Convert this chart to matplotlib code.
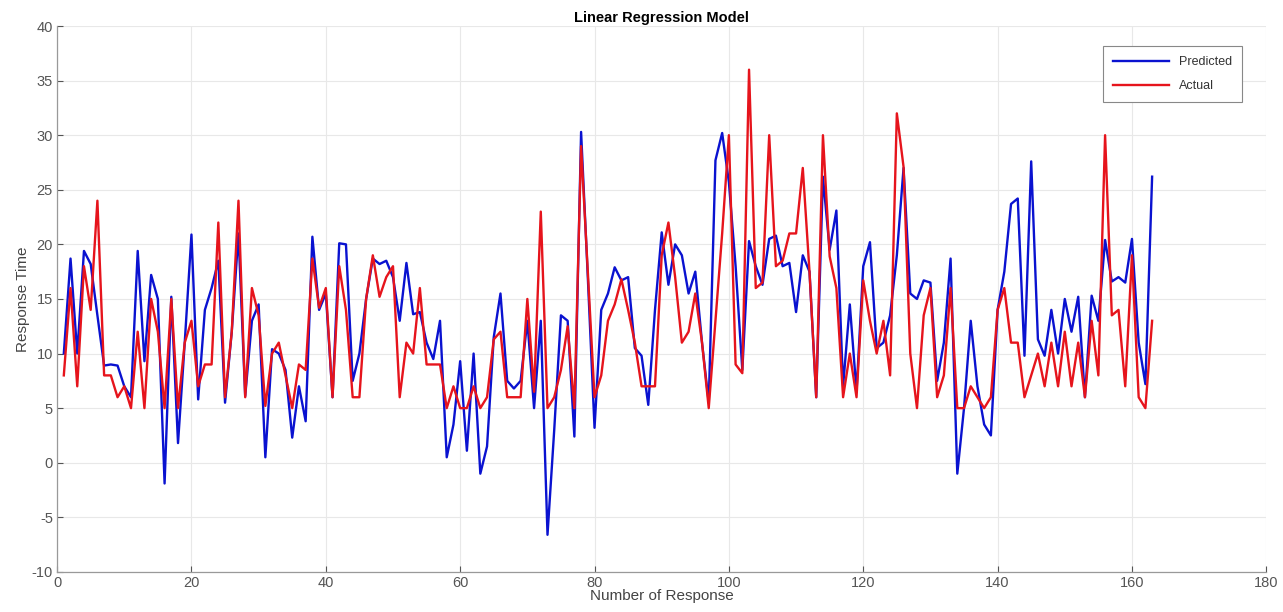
import numpy as np
import matplotlib
matplotlib.use("Agg")
import matplotlib.pyplot as plt

# Response index 1..163
response_idx = np.arange(1, 164)

predicted = [
    10.0, 18.7, 10.0, 19.4, 18.2, 13.5, 8.9, 9.0, 8.9, 7.0,      # 1-10
    6.0, 19.4, 9.3, 17.2, 15.0, -1.9, 15.2, 1.8, 11.0, 20.9,     # 11-20
    5.8, 14.0, 16.0, 18.5, 5.5, 12.0, 21.0, 6.1, 13.0, 14.5,     # 21-30
    0.5, 10.4, 10.0, 8.5, 2.3, 7.0, 3.8, 20.7, 14.0, 15.5,       # 31-40
    6.0, 20.1, 20.0, 7.5, 10.0, 15.0, 18.7, 18.2, 18.5, 17.0,    # 41-50
    13.0, 18.3, 13.6, 13.8, 11.0, 9.5, 13.0, 0.5, 3.5, 9.3,      # 51-60
    1.1, 10.0, -1.0, 1.5, 11.5, 15.5, 7.5, 6.8, 7.5, 13.0,       # 61-70
    5.0, 13.0, -6.6, 3.0, 13.5, 13.0, 2.4, 30.3, 17.0, 3.2,      # 71-80
    14.0, 15.5, 17.9, 16.7, 17.0, 10.5, 9.8, 5.3, 14.0, 21.1,    # 81-90
    16.3, 20.0, 19.0, 15.5, 17.5, 11.0, 5.5, 27.7, 30.2, 25.7,   # 91-100
    18.0, 8.5, 20.3, 18.0, 16.3, 20.5, 20.8, 18.0, 18.3, 13.8,   # 101-110
    19.0, 17.5, 6.0, 26.2, 19.5, 23.1, 7.0, 14.5, 6.5, 18.0,     # 111-120
    20.2, 10.5, 11.0, 13.5, 19.0, 27.0, 15.5, 15.0, 16.7, 16.5,  # 121-130
    7.5, 11.0, 18.7, -1.0, 5.0, 13.0, 7.0, 3.5, 2.5, 14.0,       # 131-140
    17.5, 23.7, 24.2, 9.8, 27.6, 11.3, 9.8, 14.0, 10.0, 15.0,    # 141-150
    12.0, 15.2, 6.0, 15.3, 13.0, 20.4, 16.6, 17.0, 16.5, 20.5,   # 151-160
    11.0, 7.2, 26.2,                                             # 161-163
]

actual = [
    8.0, 16.0, 7.0, 18.0, 14.0, 24.0, 8.0, 8.0, 6.0, 7.0,        # 1-10
    5.0, 12.0, 5.0, 15.0, 12.0, 5.0, 15.0, 5.0, 11.0, 13.0,      # 11-20
    7.0, 9.0, 9.0, 22.0, 6.0, 12.0, 24.0, 6.0, 16.0, 13.5,       # 21-30
    5.2, 10.0, 11.0, 8.0, 5.0, 9.0, 8.5, 18.7, 14.2, 16.0,       # 31-40
    6.0, 18.0, 14.0, 6.0, 6.0, 15.0, 19.0, 15.2, 17.0, 18.0,     # 41-50
    6.0, 11.0, 10.0, 16.0, 9.0, 9.0, 9.0, 5.0, 7.0, 5.0,         # 51-60
    5.0, 7.0, 5.0, 6.0, 11.3, 12.0, 6.0, 6.0, 6.0, 15.0,         # 61-70
    6.5, 23.0, 5.0, 6.0, 8.5, 12.5, 5.0, 29.0, 17.5, 6.0,        # 71-80
    8.0, 13.0, 14.5, 16.8, 14.0, 11.0, 7.0, 7.0, 7.0, 19.0,      # 81-90
    22.0, 17.0, 11.0, 12.0, 15.5, 11.0, 5.0, 13.0, 21.0, 30.0,   # 91-100
    9.0, 8.2, 36.0, 16.0, 16.5, 30.0, 18.0, 18.5, 21.0, 21.0,    # 101-110
    27.0, 17.5, 6.0, 30.0, 18.9, 16.0, 6.0, 10.0, 6.0, 16.7,     # 111-120
    13.0, 10.0, 13.0, 8.0, 32.0, 27.1, 10.0, 5.0, 13.5, 16.0,    # 121-130
    6.0, 8.0, 16.0, 5.0, 5.0, 7.0, 6.0, 5.0, 6.0, 14.0,          # 131-140
    16.0, 11.0, 11.0, 6.0, 8.0, 10.0, 7.0, 11.0, 7.0, 12.0,      # 141-150
    7.0, 11.0, 6.0, 13.0, 8.0, 30.0, 13.5, 14.0, 7.0, 19.0,      # 151-160
    6.0, 5.0, 13.0,                                              # 161-163
]

x_ticks = [0, 20, 40, 60, 80, 100, 120, 140, 160, 180]
y_ticks = [-10, -5, 0, 5, 10, 15, 20, 25, 30, 35, 40]

plt.rcParams['font.family'] = ['Liberation Sans', 'DejaVu Sans']
plt.rcParams['axes.unicode_minus'] = False

fig = plt.figure(figsize=(12.83, 6.12), dpi=100)
ax = fig.add_axes([0.0445, 0.0655, 0.9425, 0.892])

ax.plot(response_idx, predicted, color='#0a12d0', linewidth=1.7, label='Predicted')
ax.plot(response_idx, actual, color='#e6141c', linewidth=1.7, label='Actual')

ax.set_xlim(0, 180)
ax.set_ylim(-10, 40)
ax.set_xticks(x_ticks)
ax.set_yticks(y_ticks)
ax.grid(True, color='#e8e8e8', linewidth=0.8)
ax.set_axisbelow(True)

for side in ['top', 'right']:
    ax.spines[side].set_visible(False)
for side in ['left', 'bottom']:
    ax.spines[side].set_color('#999999')
    ax.spines[side].set_linewidth(0.9)
ax.tick_params(colors='#555555', labelsize=10.5, direction='in', length=4, width=0.8)
ax.tick_params(axis='y', pad=3)
ax.tick_params(axis='x', pad=3)

ax.set_xlabel('Number of Response', fontsize=11, color='#444444', labelpad=-1)
ax.set_ylabel('Response Time', fontsize=11, color='#444444', labelpad=1)
ax.set_title('Linear Regression Model', fontsize=10.5, fontweight='bold', pad=3)

leg = ax.legend(loc='upper right', bbox_to_anchor=(0.985, 0.975), fontsize=9,
                handlelength=4.5, borderpad=0.8, labelspacing=1.0,
                fancybox=False, framealpha=1.0, edgecolor='#888888')
leg.get_frame().set_linewidth(0.8)
for txt in leg.get_texts():
    txt.set_color('#333333')

fig.savefig('out.png', dpi=100, facecolor='white')
